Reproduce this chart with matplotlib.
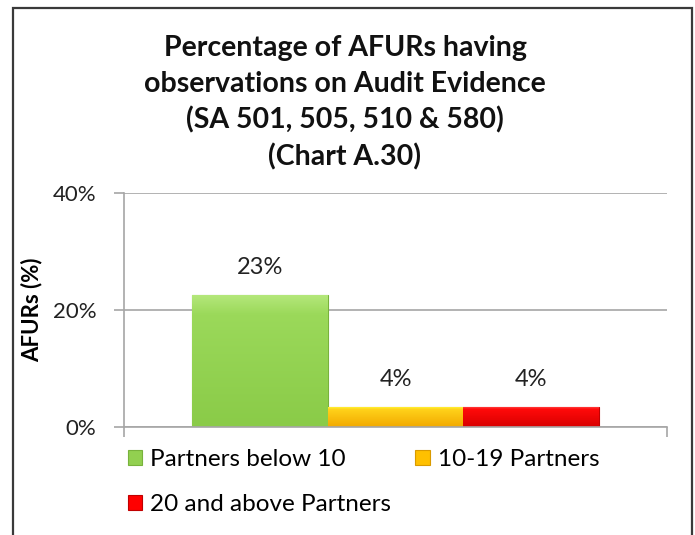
import numpy as np
import matplotlib.pyplot as plt
from matplotlib.colors import LinearSegmentedColormap
from matplotlib.patches import Rectangle

plt.rcParams['font.family'] = ['Lato', 'DejaVu Sans']

# data
categories = ['Partners below 10', '10-19 Partners', '20 and above Partners']
values = [22.6, 3.5, 3.5]
yticks = [0, 20, 40]

# colours (bottom, middle, top of the bevelled bars)
bar_colors = ['#92d050', '#ffc000', '#ff0000']
grad_colors = [
    ['#8acb48', '#9bd95a', '#b5e87c'],
    ['#f2a900', '#ffd21a', '#ffff40'],
    ['#d80000', '#ff0a0a', '#ff5050'],
]
edge_colors = ['#78b23c', '#d99a00', '#c00000']

fig = plt.figure(figsize=(6.95, 5.35), dpi=100)

# outer frame
fig.patches.append(Rectangle((13 / 695, -0.02), 679 / 695, 1 - 8 / 535 + 0.02,
                             transform=fig.transFigure, fill=False,
                             edgecolor='#3a3a3a', linewidth=1.6))

ax = fig.add_axes([124 / 695, 1 - 427 / 535, 543 / 695, 234 / 535])

x = np.arange(len(categories))
bars = ax.bar(x, values, width=1.0, color=bar_colors, edgecolor=edge_colors,
              linewidth=0.8, zorder=2)

grad = np.linspace(0, 1, 200).reshape(-1, 1)
for bar, cols in zip(bars, grad_colors):
    cmap = LinearSegmentedColormap.from_list('bevel', list(zip([0, 0.85, 1], cols)))
    x0, y0 = bar.get_x(), bar.get_y()
    im = ax.imshow(grad, cmap=cmap, origin='lower', aspect='auto',
                   extent=[x0, x0 + bar.get_width(), y0, y0 + bar.get_height()],
                   zorder=2.1)
    im.set_clip_path(bar)

for xi, v in zip(x, values):
    ax.text(xi, v + 4.6, f'{v:.0f}%', ha='center', va='center',
            fontsize=17, color='#222222')

ax.set_xlim(-1, 3)
ax.set_ylim(0, 40)
ax.set_yticks(yticks)
ax.set_yticklabels([f'{t}%' for t in yticks])
ax.set_xticks([-1, 3])
ax.set_xticklabels([])
ax.grid(axis='y', color='#a6a6a6', linewidth=1.2, zorder=0)
ax.tick_params(axis='both', length=7, width=1.2, color='#a6a6a6',
               labelsize=16, labelcolor='#222222', pad=13)
for side in ['top', 'right']:
    ax.spines[side].set_visible(False)
for side in ['left', 'bottom']:
    ax.spines[side].set_color('#a6a6a6')
    ax.spines[side].set_linewidth(1.2)
ax.set_ylabel('AFURs (%)', fontsize=16, fontweight='bold', labelpad=7)

fig.text(345 / 695, 1 - 103 / 535,
         'Percentage of AFURs having\nobservations on Audit Evidence\n'
         '(SA 501, 505, 510 & 580)\n(Chart A.30)',
         ha='center', va='center', fontsize=20.5, fontweight='bold',
         linespacing=1.45, color='#111111')

# legend filled row-wise
order = [0, 2, 1]
fig.legend([bars[i] for i in order], [categories[i] for i in order], ncol=2,
           loc='upper left', bbox_to_anchor=(128 / 695, 1 - 449.5 / 535),
           frameon=False, fontsize=17.5, handlelength=0.58, handleheight=0.58,
           handletextpad=0.33, columnspacing=1.0, labelspacing=0.98,
           borderpad=0, borderaxespad=0)

fig.savefig('out.png', dpi=100)
